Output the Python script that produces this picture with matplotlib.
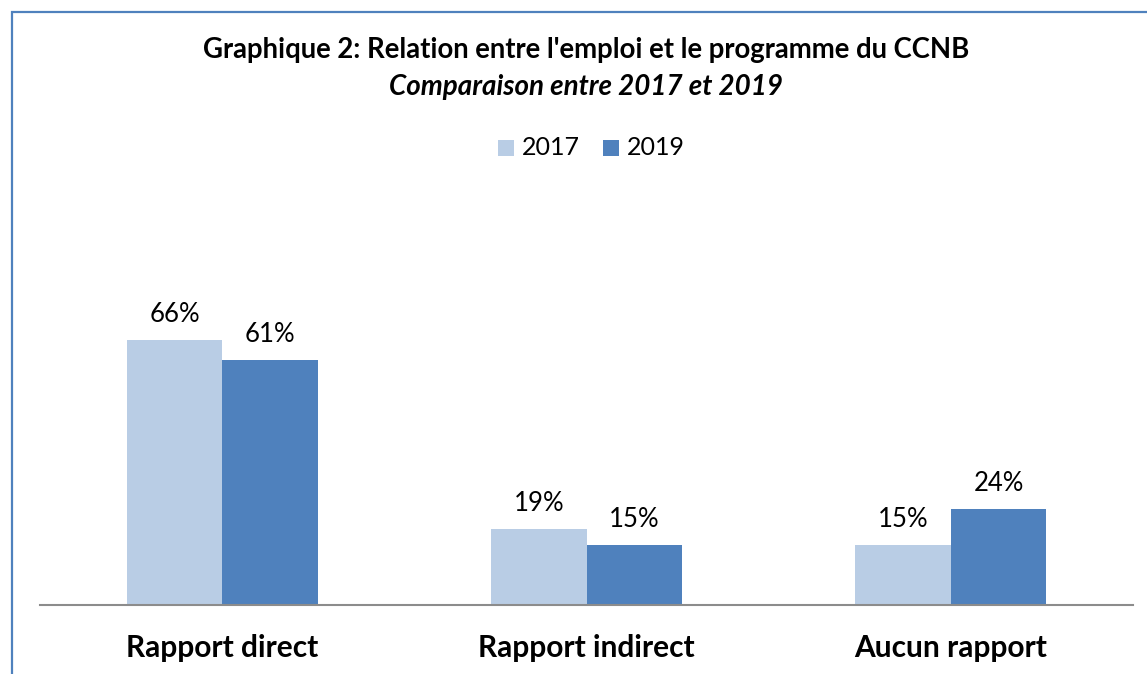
import matplotlib
matplotlib.use("Agg")
import matplotlib.pyplot as plt
from matplotlib.patches import Rectangle
import numpy as np

categories = ["Rapport direct", "Rapport indirect", "Aucun rapport"]
values_2017 = [66, 19, 15]
values_2019 = [61, 15, 24]
series_names = ["2017", "2019"]
title_line1 = "Graphique 2: Relation entre l'emploi et le programme du CCNB"
title_line2 = "Comparaison entre 2017 et 2019"

c2017 = "#B9CDE5"
c2019 = "#4F81BD"
FONT = ["Lato", "DejaVu Sans"]
plt.rcParams['font.family'] = FONT

W, H = 1147, 674
fig = plt.figure(figsize=(W / 100, H / 100), dpi=100)


def fx(px):
    return px / W


def fy(py):
    return 1 - py / H


# axes: x from 40 to 1133 px, baseline at y=605, 1% = 4.015 px
left, right = 40, 1133
base = 605
top = base - 100 * 4.015
ax = fig.add_axes([left / W, (H - base) / H, (right - left) / W, (base - top) / H])

x = np.arange(len(categories))
bw = 0.262
b1 = ax.bar(x - bw / 2, values_2017, bw, color=c2017)
b2 = ax.bar(x + bw / 2, values_2019, bw, color=c2019)
ax.set_xlim(-0.5, len(categories) - 0.5)
ax.set_ylim(0, 100)

for bars, vals in ((b1, values_2017), (b2, values_2019)):
    for b, v in zip(bars, vals):
        ax.annotate(f"{v}%", (b.get_x() + b.get_width() / 2, v), xytext=(0, 18),
                    textcoords="offset pixels", ha="center", va="baseline",
                    fontsize=18.5, color="#000000")

for s in ["top", "right", "left"]:
    ax.spines[s].set_visible(False)
ax.spines["bottom"].set_color("#8C8C8C")
ax.spines["bottom"].set_linewidth(1.5)
ax.set_yticks([])
ax.set_xticks(x)
ax.set_xticklabels([])
ax.tick_params(axis="x", length=0)
for xi, lab in zip(x, categories):
    ax.annotate(lab, (xi, 0), xycoords=ax.get_xaxis_transform(), xytext=(0, -52),
                textcoords="offset pixels", ha="center", va="baseline",
                fontsize=21.5, fontweight="bold", annotation_clip=False)

fig.text(fx(586), fy(58), title_line1, ha="center", va="baseline",
         fontsize=19.8, fontweight="bold")
fig.text(fx(586), fy(95), title_line2, ha="center", va="baseline",
         fontsize=20, fontweight="bold", style="italic")

# legend (manual, matching Excel layout)
leg_items = [(498, c2017, series_names[0]), (603, c2019, series_names[1])]
for px0, col, name in leg_items:
    fig.patches.append(Rectangle((fx(px0), fy(156)), 16 / W, 16 / H,
                                 transform=fig.transFigure, facecolor=col,
                                 edgecolor="none"))
    fig.text(fx(px0 + 24), fy(155), name, ha="left", va="baseline", fontsize=18)

# outer border (cropped at right and bottom)
fig.patches.append(Rectangle((11.5 / W, -0.1), 1.2, 1 - 11.5 / H + 0.1,
                             transform=fig.transFigure, fill=False,
                             edgecolor="#4F81BD", linewidth=1.6))

fig.savefig("out.png", dpi=100)
